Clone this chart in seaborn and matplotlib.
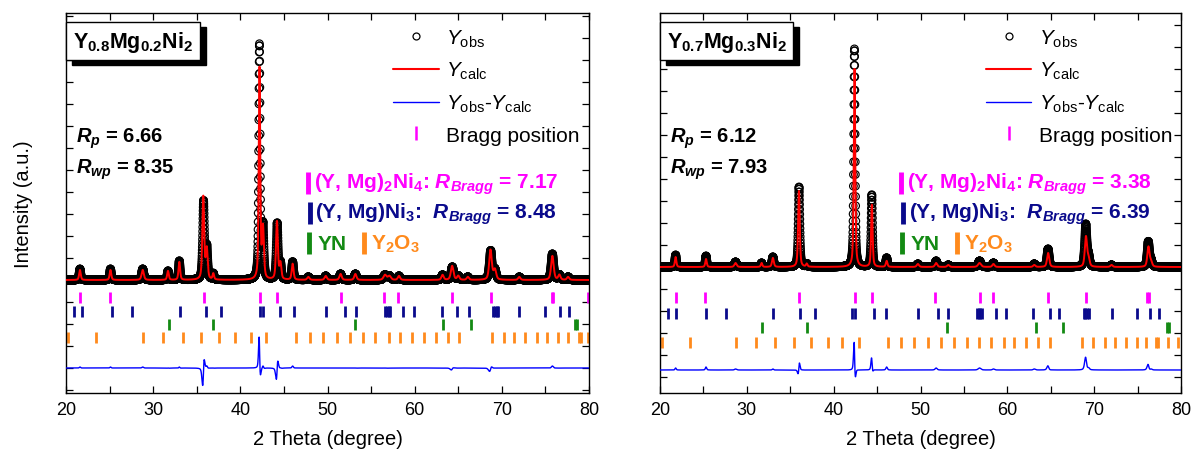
import numpy as np
import pandas as pd
import matplotlib
matplotlib.use("Agg")
import matplotlib.pyplot as plt
from matplotlib.lines import Line2D
from matplotlib.ticker import MultipleLocator
from matplotlib.transforms import offset_copy
import seaborn as sns

# ---------------------------------------------------------------------------
# Values
# peak tables: 2theta (deg), calc height, obs height, obs shift (deg), fwhm (deg)
# ---------------------------------------------------------------------------
y08_pos = [21.6, 25.1, 28.8, 31.7, 33.0, 35.75, 36.15, 36.9, 42.2, 42.6, 44.2, 44.6,
           46.0, 47.8, 49.8, 51.5, 53.2, 56.6, 57.1, 58.2, 63.2, 64.3, 65.0, 66.1,
           68.7, 69.2, 72.0, 75.8, 76.6, 77.6]
y08_calc = [10, 10, 10, 9, 18, 83, 30, 6, 211, 50, 58, 16,
            16, 3, 4, 6, 6, 5, 4, 4, 5, 14, 4, 3,
            30, 10, 3, 24, 5, 3]
y08_obs = [11, 11, 11, 9, 19, 78, 32, 6, 234, 52, 56, 16,
           18, 3, 4, 6, 6, 5, 4, 4, 5, 13, 4, 3,
           29, 10, 3, 26, 5, 3]
y08_shift = [0, 0, 0, 0, 0, 0.03, 0, 0, -0.01, 0, 0.03, 0,
             0, 0, 0, 0, 0, 0, 0, 0, 0, 0.02, 0, 0,
             0.02, 0, 0, 0, 0, 0]
y08_fwhm = [0.22, 0.22, 0.3, 0.22, 0.22, 0.25, 0.25, 0.2, 0.2, 0.25, 0.25, 0.25,
            0.25, 0.3, 0.3, 0.3, 0.3, 0.4, 0.4, 0.3, 0.3, 0.35, 0.3, 0.3,
            0.35, 0.35, 0.3, 0.35, 0.3, 0.3]

y07_pos = [21.8, 25.3, 28.7, 31.7, 33.0, 36.0, 36.9, 42.4, 44.4, 46.1, 49.7, 51.8,
           53.2, 56.8, 58.4, 63.1, 64.7, 69.05, 69.35, 72.0, 76.25, 76.55]
y07_calc = [10, 8, 4, 4, 9, 76, 3, 198, 62, 6, 3, 4,
            2, 4, 3, 2, 14, 30, 8, 2, 20, 5]
y07_obs = [12, 11, 5, 4, 10, 80, 3, 218, 72, 9, 3, 6,
           2, 6, 4, 3, 18, 42, 10, 2, 25, 6]
y07_shift = [0, 0, 0, 0, 0, 0.01, 0, -0.01, -0.01, 0, 0, 0,
             0, 0, 0, 0, -0.01, -0.015, 0, 0, -0.015, 0]
y07_fwhm = [0.2, 0.2, 0.3, 0.2, 0.25, 0.22, 0.2, 0.2, 0.2, 0.22, 0.3, 0.3,
            0.3, 0.4, 0.3, 0.3, 0.3, 0.3, 0.3, 0.3, 0.3, 0.3]

# Bragg reflections (2theta, deg)
y08_bragg_ni4 = [21.6, 25.1, 35.8, 42.2, 44.2, 51.5, 56.5, 58.1, 64.3, 68.7, 75.7, 75.9, 79.9]
y08_bragg_ni3 = [20.9, 21.8, 25.3, 27.6, 33.1, 36.1, 37.8, 42.2, 42.6, 44.6, 46.1, 49.8,
                 52.0, 53.3, 56.6, 56.8, 57.0, 57.2, 58.7, 59.9, 63.1, 64.9, 66.2,
                 69.0, 69.2, 69.4, 69.6, 72.0, 75.0, 76.7, 77.7]
y08_bragg_yn = [31.8, 36.9, 53.2, 63.3, 66.5, 78.4, 78.6]
y08_bragg_y2o3 = [20.2, 23.4, 28.8, 31.1, 33.4, 35.5, 37.5, 39.4, 41.2, 43.0, 46.4, 48.0,
                  49.5, 51.1, 52.6, 54.1, 55.5, 57.0, 58.3, 59.7, 61.1, 62.5, 63.8, 65.1,
                  68.9, 70.2, 71.4, 72.7, 74.0, 75.2, 76.4, 77.6, 78.8, 79.1, 79.9]

y07_bragg_ni4 = [21.8, 25.2, 36.0, 42.4, 44.4, 51.7, 56.8, 58.4, 64.7, 69.1, 76.1, 76.3]
y07_bragg_ni3 = [20.9, 21.8, 25.3, 27.6, 33.0, 36.1, 37.9, 42.1, 42.5, 44.6, 46.0, 49.7,
                 52.0, 53.2, 56.5, 56.7, 56.9, 57.1, 58.7, 59.9, 63.0, 64.9, 66.0,
                 68.8, 69.0, 69.2, 69.4, 72.0, 74.9, 76.4, 77.5]
y07_bragg_yn = [31.7, 36.9, 53.1, 63.3, 66.4, 78.4, 78.6]
y07_bragg_y2o3 = [20.2, 23.4, 28.7, 31.1, 33.3, 35.4, 37.4, 39.3, 41.0, 42.9, 46.2, 47.8,
                  49.3, 50.9, 52.4, 53.9, 55.3, 56.7, 58.1, 59.6, 60.8, 62.2, 63.5, 64.9,
                  68.6, 69.9, 71.2, 72.4, 73.7, 74.9, 76.0, 77.1, 77.3, 78.5, 79.7]

sample_names = [r"$\mathbf{Y_{0.8}Mg_{0.2}Ni_{2}}$", r"$\mathbf{Y_{0.7}Mg_{0.3}Ni_{2}}$"]
rp_values = ["6.66", "6.12"]
rwp_values = ["8.35", "7.93"]
rbragg_ni4 = ["7.17", "3.38"]
rbragg_ni3 = ["8.48", "6.39"]

MAGENTA = "#ff00ff"
NAVY = "#0a0a8c"
GREEN = "#138a13"
ORANGE = "#ff8a1c"

two_theta = np.round(np.arange(20.0, 80.0001, 0.01), 3)


def peak_profile(tt, pos, height, fwhm, eta=0.5):
    u = (tt - pos) / (fwhm / 2.0)
    return height * (eta / (1.0 + u ** 2) + (1 - eta) * np.exp(-np.log(2) * u ** 2))


def build_pattern(pos, calc, obs, shift, fwhm):
    y_calc = np.zeros_like(two_theta)
    y_obs = np.zeros_like(two_theta)
    for p, hc, ho, s, w in zip(pos, calc, obs, shift, fwhm):
        y_calc += peak_profile(two_theta, p, hc, w)
        y_obs += peak_profile(two_theta, p + s, ho, w * 0.97)
    return pd.DataFrame({"two_theta": two_theta, "obs": y_obs, "calc": y_calc})


def draw_panel(ax, df, bragg, rows, diff_row, ylim, idx):
    sns.scatterplot(data=df, x="two_theta", y="obs", ax=ax, marker="o", s=30,
                    facecolor="none", edgecolor="black", linewidth=0.85, zorder=2,
                    legend=False)
    sns.lineplot(data=df, x="two_theta", y="calc", ax=ax, color="red", lw=1.4,
                 estimator=None, sort=False, zorder=3)
    diff = df["obs"] - df["calc"] + diff_row
    sns.lineplot(x=df["two_theta"], y=diff, ax=ax, color="blue", lw=1.0,
                 estimator=None, sort=False, zorder=3)
    for positions, row, color in zip(bragg, rows, [MAGENTA, NAVY, GREEN, ORANGE]):
        ax.vlines(positions, row - 5.5, row + 5.5, color=color, lw=2.0)

    ax.set_xlim(20, 80)
    ax.set_ylim(*ylim)
    ax.xaxis.set_major_locator(MultipleLocator(10))
    ax.xaxis.set_minor_locator(MultipleLocator(5))
    ax.yaxis.set_major_locator(MultipleLocator(22))
    ax.tick_params(axis="both", which="both", direction="in", top=True, right=True,
                   length=5, width=0.9, labelsize=13, pad=6, colors="black")
    ax.tick_params(axis="y", which="both", labelleft=False)
    for sp in ax.spines.values():
        sp.set_linewidth(1.0)
        sp.set_color("black")
    ax.set_xlabel("2 Theta (degree)", fontsize=14.5, labelpad=8)
    ax.set_ylabel("")

    # sample name box with drop shadow
    fig = ax.figure
    shadow_tr = offset_copy(ax.transAxes, fig=fig, x=6, y=-5, units="dots")
    box_kw = dict(ha="center", va="center", fontsize=15.5)
    ax.text(0.128, 0.926, sample_names[idx], transform=shadow_tr, color="black",
            bbox=dict(boxstyle="square,pad=0.3", fc="black", ec="black", lw=1), **box_kw)
    ax.text(0.128, 0.926, sample_names[idx], transform=ax.transAxes, color="black",
            bbox=dict(boxstyle="square,pad=0.3", fc="white", ec="black", lw=1), **box_kw)

    # agreement factors
    ax.text(0.02, 0.672, r"$\mathbfit{R}_{\mathbfit{p}}$ = " + rp_values[idx],
            transform=ax.transAxes, fontsize=14.5, fontweight="bold", va="center")
    ax.text(0.02, 0.59, r"$\mathbfit{R}_{\mathbfit{wp}}$ = " + rwp_values[idx],
            transform=ax.transAxes, fontsize=14.5, fontweight="bold", va="center")

    # phase labels
    bx = 0.463
    label_kw = dict(transform=ax.transAxes, fontsize=15, fontweight="bold", va="center")
    key_kw = dict(transform=ax.transAxes, marker="|", ms=16, mew=3.5, ls="none")
    ax.plot([bx], [0.552], color=MAGENTA, **key_kw)
    ax.text(bx + 0.011, 0.552,
            r"(Y, Mg)$_\mathbf{2}$Ni$_\mathbf{4}$: $\mathbfit{R}_{\mathbfit{Bragg}}$ = "
            + rbragg_ni4[idx], color=MAGENTA, **label_kw)
    ax.plot([bx + 0.003], [0.473], color=NAVY, **key_kw)
    ax.text(bx + 0.014, 0.473,
            r"(Y, Mg)Ni$_\mathbf{3}$:  $\mathbfit{R}_{\mathbfit{Bragg}}$ = "
            + rbragg_ni3[idx], color=NAVY, **label_kw)
    ax.plot([bx + 0.002], [0.394], color=GREEN, **key_kw)
    ax.text(bx + 0.018, 0.394, "YN", color=GREEN, **label_kw)
    ax.plot([0.570], [0.394], color=ORANGE, **key_kw)
    ax.text(0.583, 0.394, r"Y$_\mathbf{2}$O$_\mathbf{3}$", color=ORANGE, **label_kw)

    handles = [
        Line2D([], [], marker="o", ls="none", mfc="none", mec="black", ms=5, mew=0.9),
        Line2D([], [], color="red", lw=1.5),
        Line2D([], [], color="blue", lw=1.0),
        Line2D([], [], marker="|", ls="none", color=MAGENTA, ms=10, mew=1.8),
    ]
    labels = [r"$Y_{\rm obs}$", r"$Y_{\rm calc}$", r"$Y_{\rm obs}$-$Y_{\rm calc}$",
              "Bragg position"]
    ax.legend(handles, labels, loc="upper left", bbox_to_anchor=(0.625, 0.962),
              frameon=False, fontsize=15, handlelength=2.2, handletextpad=0.35,
              labelspacing=0.55, borderpad=0, borderaxespad=0)


sns.set_style("ticks")
plt.rcParams["font.family"] = ["Liberation Sans", "DejaVu Sans"]
plt.rcParams["text.color"] = "black"
plt.rcParams["axes.labelcolor"] = "black"
plt.rcParams["xtick.color"] = "black"
plt.rcParams["ytick.color"] = "black"
plt.rcParams["mathtext.fontset"] = "custom"
plt.rcParams["mathtext.rm"] = "Liberation Sans"
plt.rcParams["mathtext.it"] = "Liberation Sans:italic"
plt.rcParams["mathtext.bf"] = "Liberation Sans:bold"
if "mathtext.bfit" in plt.rcParams:
    plt.rcParams["mathtext.bfit"] = "Liberation Sans:italic:bold"

fig = plt.figure(figsize=(11.92, 4.52), dpi=100)
ax_left = fig.add_axes([66 / 1192, 1 - 394 / 452, 523 / 1192, 380 / 452])
ax_right = fig.add_axes([660 / 1192, 1 - 394 / 452, 521 / 1192, 380 / 452])

df_08 = build_pattern(y08_pos, y08_calc, y08_obs, y08_shift, y08_fwhm)
df_07 = build_pattern(y07_pos, y07_calc, y07_obs, y07_shift, y07_fwhm)

draw_panel(ax_left, df_08, [y08_bragg_ni4, y08_bragg_ni3, y08_bragg_yn, y08_bragg_y2o3],
           [-17, -31, -44, -57], -88, (-113, 267), 0)
draw_panel(ax_right, df_07, [y07_bragg_ni4, y07_bragg_ni3, y07_bragg_yn, y07_bragg_y2o3],
           [-30, -46, -60, -75], -103, (-126, 254), 1)

ax_left.set_ylabel("Intensity (a.u.)", fontsize=14.5, labelpad=24)

fig.savefig("out.png", dpi=100, facecolor="white")
